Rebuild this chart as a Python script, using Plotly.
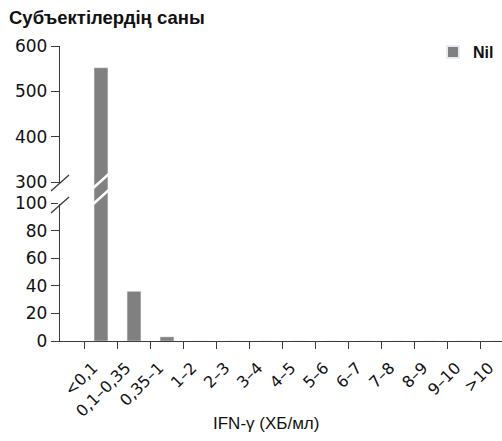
import plotly.graph_objects as go

categories = ["<0,1", "0,1–0,35", "0,35–1", "1–2", "2–3", "3–4", "4–5", "5–6",
              "6–7", "7–8", "8–9", "9–10", ">10"]
nil_counts = [552, 36, 3, 0, 0, 0, 0, 0, 0, 0, 0, 0, 0]
lower_ticks = [0, 20, 40, 60, 80, 100]
upper_ticks = [300, 400, 500, 600]
series_name = "<b>Nil</b>"
x_title = "IFN-γ (ХБ/мл)"
y_title = "<b>Субъектілердің саны</b>"

BAR = "#808080"
AX = "#3a3a3a"
W, H = 502, 441
L, R, T, B = 60, 0, 46, 100
PW, PH = W - L - R, H - T - B


def py(p):  # pixel y -> paper
    return (H - B - p) / PH


def px(p):  # pixel x -> paper
    return (p - L) / PW


split = py(182)
lower_top = 100 * (H - B - 182) / (H - B - 203)

fig = go.Figure()
fig.add_trace(go.Bar(x=categories, y=nil_counts, name=series_name, marker_color=BAR,
                     width=0.42, xaxis="x", yaxis="y", showlegend=True))
fig.add_trace(go.Bar(x=categories, y=nil_counts, name=series_name, marker_color=BAR,
                     width=0.42, xaxis="x", yaxis="y2", showlegend=False))

shapes = []
# white gap on the y-axis line + break marks
shapes.append(dict(type="line", xref="paper", yref="paper", x0=0, x1=0,
                   y0=py(204), y1=py(184), line=dict(color="white", width=4)))
for cy in (183, 205):
    shapes.append(dict(type="line", xref="paper", yref="paper",
                       x0=px(51), x1=px(69), y0=py(cy + 8), y1=py(cy - 8),
                       line=dict(color=AX, width=1.4)))
# white break strokes across tall bars
for i, v in enumerate(nil_counts):
    if v > 100:
        for cy in (181, 197):
            shapes.append(dict(type="line", xref="x", yref="paper",
                               x0=i - 0.27, x1=i + 0.27, y0=py(cy + 8), y1=py(cy - 8),
                               line=dict(color="white", width=2.5)))

fig.update_layout(
    width=W, height=H,
    margin=dict(l=L, r=R, t=T, b=B, autoexpand=False),
    plot_bgcolor="white", paper_bgcolor="white",
    barmode="overlay",
    showlegend=True,
    legend=dict(x=px(433), xanchor="left", y=py(52), yanchor="middle",
                font=dict(family="Liberation Sans", size=16, color="#111"),
                itemwidth=30, bgcolor="rgba(0,0,0,0)", itemsizing="constant"),
    xaxis=dict(
        type="category", anchor="y", range=[-1.242, 12.15],
        showline=True, linecolor=AX, linewidth=1.3,
        ticks="outside", ticklen=7, tickcolor=AX, tickson="boundaries",
        tickangle=-45, ticklabelshift=-8, ticklabelstandoff=10,
        tickfont=dict(family="DejaVu Sans", size=16, color="#111"),
        showgrid=False, zeroline=False, automargin=False,
    ),
    yaxis=dict(
        domain=[0, split], range=[0, lower_top], tickvals=lower_ticks,
        showline=True, linecolor=AX, linewidth=1.3,
        ticks="outside", ticklen=8, tickcolor=AX,
        tickfont=dict(family="DejaVu Sans", size=17, color="#111"),
        showgrid=False, zeroline=False, automargin=False,
    ),
    yaxis2=dict(
        domain=[split, 1], range=[300, 600], tickvals=upper_ticks,
        anchor="x", showline=True, linecolor=AX, linewidth=1.3,
        ticks="outside", ticklen=8, tickcolor=AX,
        tickfont=dict(family="DejaVu Sans", size=17, color="#111"),
        showgrid=False, zeroline=False, automargin=False,
    ),
    shapes=shapes,
    annotations=[
        dict(text=y_title, xref="paper", yref="paper",
             x=px(7), y=py(18), xanchor="left", yanchor="middle", showarrow=False,
             font=dict(family="Liberation Sans", size=18.5, color="#111")),
        dict(text=x_title, xref="paper", yref="paper",
             x=px(266), y=py(423), xanchor="center", yanchor="middle", showarrow=False,
             font=dict(family="Liberation Sans", size=17, color="#111")),
    ],
)

fig.write_html("out.html", config={"displayModeBar": False},
               post_script="document.body.style.margin='0px';document.body.style.overflow='hidden';")
